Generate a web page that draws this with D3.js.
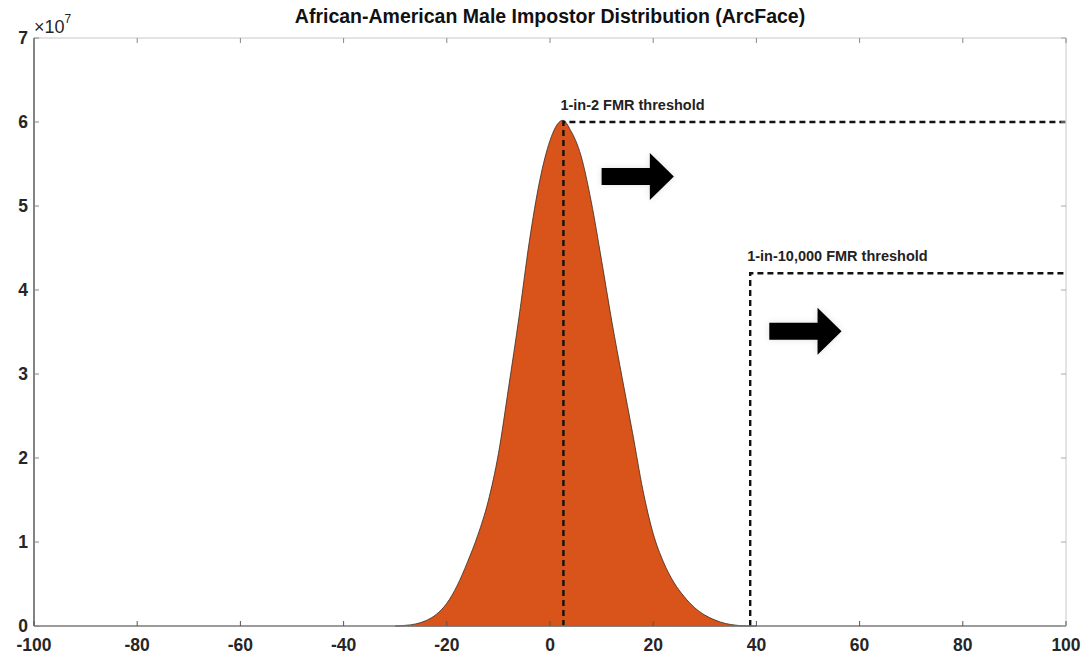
<!DOCTYPE html>
<html>
<head>
<meta charset="utf-8">
<script src="https://cdn.jsdelivr.net/npm/d3@7"></script>
<style>
  body { margin: 0; background: #fff; }
  svg { font-family: "Liberation Sans", Arial, sans-serif; }
</style>
</head>
<body>
<div id="chart"></div>
<script>
// impostor score distribution (counts in units of 1e7)
const scores = [-30, -28, -26, -24, -22, -20, -18, -16, -14, -12, -10, -8, -6, -4, -2, 0, 1, 2.5,
                4, 6, 8, 10, 12, 14, 16, 18, 20, 22, 24, 26, 28, 30, 32, 34, 36, 38, 40];
const counts = [0, 0.008, 0.025, 0.065, 0.14, 0.27, 0.48, 0.76, 1.08, 1.48, 2.05, 2.85, 3.68, 4.58, 5.3, 5.78, 5.93, 6.02,
                5.9, 5.6, 5.05, 4.35, 3.62, 2.95, 2.3, 1.62, 1.1, 0.76, 0.52, 0.35, 0.22, 0.13, 0.07, 0.03, 0.01, 0, 0];

// thresholds: score where it starts, height of the marker line
const thresholdNames = ["1-in-2 FMR threshold", "1-in-10,000 FMR threshold"];
const thresholdX = [2.6, 38.8];
const thresholdY = [6.0, 4.2];
// arrow start/end in data units
const arrowX0 = [10, 42.5];
const arrowX1 = [24, 56.5];
const arrowY = [5.35, 3.51];

const xTicks = [-100, -80, -60, -40, -20, 0, 20, 40, 60, 80, 100];
const yTicks = [0, 1, 2, 3, 4, 5, 6, 7];

const W = 1084, H = 655;
const margin = {top: 38, right: 18, bottom: 29, left: 34};
const width = W - margin.left - margin.right,
      height = H - margin.top - margin.bottom;

const svg = d3.select("#chart").append("svg")
  .attr("width", W).attr("height", H);

const g = svg.append("g")
  .attr("transform", `translate(${margin.left}, ${margin.top})`);

const x = d3.scaleLinear().domain([-100, 100]).range([0, width]);
const y = d3.scaleLinear().domain([0, 7]).range([height, 0]);

// filled distribution
const data = scores.map((s, i) => ({x: s, y: counts[i]}));
const area = d3.area()
  .x(d => x(d.x))
  .y0(y(0))
  .y1(d => y(d.y))
  .curve(d3.curveMonotoneX);
g.append("path")
  .datum(data)
  .attr("d", area)
  .attr("fill", "#d9541a")
  .attr("stroke", "#3a2a20")
  .attr("stroke-width", 0.8);

// threshold lines
thresholdX.forEach((tx, i) => {
  g.append("path")
    .attr("d", `M${x(tx)},${y(0)}V${y(thresholdY[i])}H${x(100)}`)
    .attr("fill", "none")
    .attr("stroke", "#111")
    .attr("stroke-width", 2.4)
    .attr("stroke-dasharray", "6,4");
  g.append("text")
    .attr("x", x(tx) - 3)
    .attr("y", y(thresholdY[i]) - 12)
    .attr("font-size", 14.5)
    .attr("font-weight", "bold")
    .attr("fill", "#222")
    .text(thresholdNames[i]);
});

// arrows
const defs = svg.append("defs");
defs.append("filter").attr("id", "shadow")
  .append("feDropShadow")
  .attr("dx", 0).attr("dy", 0).attr("stdDeviation", 3)
  .attr("flood-color", "#000").attr("flood-opacity", 0.12);

arrowX0.forEach((ax, i) => {
  const x0 = x(ax), x1 = x(arrowX1[i]), cy = y(arrowY[i]);
  const head = 24, sh = 8.5, hh = 23.5;
  g.append("path")
    .attr("d", `M${x0},${cy - sh}H${x1 - head}V${cy - hh}L${x1},${cy}L${x1 - head},${cy + hh}V${cy + sh}H${x0}Z`)
    .attr("fill", "#000")
    .attr("filter", "url(#shadow)");
});

// axes box with inward ticks
const tickLen = 5;
const axisG = g.append("g");
axisG.append("line").attr("x1", 0).attr("x2", width).attr("y1", 0).attr("y2", 0)
  .attr("stroke", "#c8c8c8");
axisG.append("line").attr("x1", width).attr("x2", width).attr("y1", 0).attr("y2", height)
  .attr("stroke", "#c8c8c8");
axisG.append("line").attr("x1", 0).attr("x2", 0).attr("y1", 0).attr("y2", height)
  .attr("stroke", "#5a5a5a").attr("stroke-width", 1.5);
axisG.append("line").attr("x1", 0).attr("x2", width).attr("y1", height).attr("y2", height)
  .attr("stroke", "#7a7a7a").attr("stroke-width", 1.5);

xTicks.forEach(t => {
  axisG.append("line").attr("x1", x(t)).attr("x2", x(t))
    .attr("y1", height).attr("y2", height - tickLen).attr("stroke", "#555");
  axisG.append("line").attr("x1", x(t)).attr("x2", x(t))
    .attr("y1", 0).attr("y2", tickLen).attr("stroke", "#888");
  axisG.append("text")
    .attr("x", x(t)).attr("y", height + 25)
    .attr("text-anchor", "middle")
    .attr("font-size", 17.5).attr("font-weight", "bold").attr("fill", "#262626")
    .text(t);
});

yTicks.forEach(t => {
  axisG.append("line").attr("x1", 0).attr("x2", tickLen)
    .attr("y1", y(t)).attr("y2", y(t)).attr("stroke", "#888");
  axisG.append("line").attr("x1", width).attr("x2", width - tickLen)
    .attr("y1", y(t)).attr("y2", y(t)).attr("stroke", "#aaa");
  axisG.append("text")
    .attr("x", -6).attr("y", y(t) + 6)
    .attr("text-anchor", "end")
    .attr("font-size", 17.5).attr("font-weight", "bold").attr("fill", "#262626")
    .text(t);
});

// exponent label
const expo = svg.append("text")
  .attr("x", 34).attr("y", 33)
  .attr("font-size", 18).attr("fill", "#262626");
expo.append("tspan").text("×10");
expo.append("tspan").attr("font-size", 12).attr("dy", -10).text("7");

// title
svg.append("text")
  .attr("x", margin.left + width / 2).attr("y", 23)
  .attr("text-anchor", "middle")
  .attr("font-size", 19.5).attr("font-weight", "bold").attr("fill", "#111")
  .text("African-American Male Impostor Distribution (ArcFace)");
</script>
</body>
</html>
